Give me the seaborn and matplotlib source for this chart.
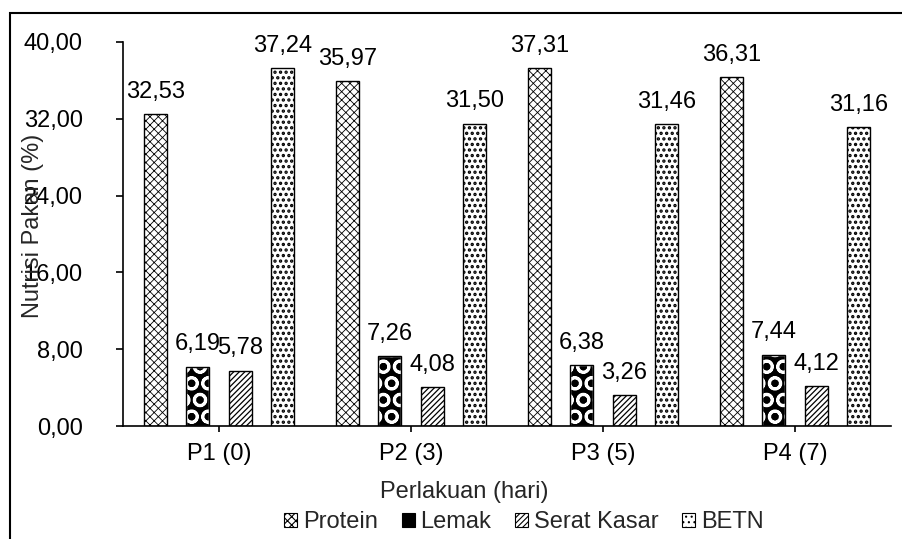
import matplotlib
matplotlib.use("Agg")
import matplotlib.pyplot as plt
from matplotlib.patches import Patch, Rectangle
from matplotlib.ticker import FuncFormatter, FixedLocator
import seaborn as sns
import pandas as pd

# Nutrient composition per treatment
perlakuan = ["P1 (0)", "P2 (3)", "P3 (5)", "P4 (7)"]
nutrisi = ["Protein", "Lemak", "Serat Kasar", "BETN"]
protein = [32.53, 35.97, 37.31, 36.31]
lemak = [6.19, 7.26, 6.38, 7.44]
serat_kasar = [5.78, 4.08, 3.26, 4.12]
betn = [37.24, 31.50, 31.46, 31.16]
y_ticks = [0, 8, 16, 24, 32, 40]

df = pd.DataFrame({
    "Perlakuan": perlakuan * 4,
    "Nutrisi": [n for n in nutrisi for _ in perlakuan],
    "Nilai": protein + lemak + serat_kasar + betn,
})

sns.set_theme(style="white")
plt.rcParams["font.family"] = ["Liberation Sans", "DejaVu Sans"]
plt.rcParams["hatch.linewidth"] = 0.8
FS = 17

fig = plt.figure(figsize=(9.03, 5.39), dpi=100)
ax = fig.add_axes([123 / 903, 1 - 426 / 539, (891 - 123) / 903, (426 - 42) / 539])

sns.barplot(data=df, x="Perlakuan", y="Nilai", hue="Nutrisi", order=perlakuan,
            hue_order=nutrisi, palette=["white"] * 4, width=0.885, gap=0.457,
            edgecolor="black", linewidth=1.0, errorbar=None, ax=ax, legend=False)

styles = {
    "Protein": dict(face="white", hatch="xxxx", hcolor="black", hlw=0.6),
    "Lemak": dict(face="black", hatch="O", hcolor="white", hlw=2.0),
    "Serat Kasar": dict(face="white", hatch="//////", hcolor="black", hlw=0.9),
    "BETN": dict(face="white", hatch="...", hcolor="black", hlw=1.6),
}

for name, cont in zip(nutrisi, ax.containers):
    st = styles[name]
    for bar in cont:
        bar.set_facecolor(st["face"])
        bar.set_hatch(st["hatch"])
        bar.set_edgecolor(st["hcolor"])
        if hasattr(bar, "set_hatch_linewidth"):
            bar.set_hatch_linewidth(st["hlw"])
        if st["hcolor"] != "black":
            # black outline on top of a white-hatched bar
            ax.add_patch(Rectangle(bar.get_xy(), bar.get_width(), bar.get_height(),
                                   fill=False, edgecolor="black", linewidth=1.0, zorder=3))
    ax.bar_label(cont, labels=[f"{v:.2f}".replace(".", ",") for v in cont.datavalues],
                 padding=8, fontsize=FS, color="black")

ax.set_ylim(0, 40)
ax.yaxis.set_major_locator(FixedLocator(y_ticks))
ax.yaxis.set_major_formatter(FuncFormatter(lambda v, p: f"{v:.2f}".replace(".", ",")))
ax.set_xlim(-0.5, 3.5)

for s in ["top", "right"]:
    ax.spines[s].set_visible(False)
for s in ["left", "bottom"]:
    ax.spines[s].set_color("black")
    ax.spines[s].set_linewidth(1.2)

ax.tick_params(axis="both", which="major", direction="out", length=5, width=1.2,
               colors="black", labelsize=FS, left=True, bottom=True)
ax.tick_params(axis="x", length=4, pad=8)
ax.tick_params(axis="y", pad=24)
ax.set_xlabel("")
ax.set_ylabel("")

fig.text(464 / 903, 1 - 492 / 539, "Perlakuan (hari)", ha="center", va="center", fontsize=FS)
fig.text(33 / 903, 1 - 226 / 539, "Nutrisi Pakan (%)", ha="center", va="center",
         rotation=90, fontsize=FS)

handles = []
for n in nutrisi:
    st = styles[n]
    p = Patch(facecolor=st["face"], edgecolor=st["hcolor"], hatch=st["hatch"], linewidth=0.8)
    handles.append(p)
leg = fig.legend(handles, nutrisi, loc="center", bbox_to_anchor=(524 / 903, 1 - 522 / 539),
                 ncol=4, frameon=False, fontsize=FS, handlelength=0.55, handleheight=0.55,
                 handletextpad=0.25, columnspacing=1.0, borderaxespad=0)
for h in leg.legend_handles:
    h.set_edgecolor("black")

# chart border
fig.patches.append(Rectangle((10 / 903, -0.1), 1.2, 1.1 - 13 / 539, transform=fig.transFigure,
                             fill=False, edgecolor="black", linewidth=1.5, figure=fig))

fig.savefig("out.png", dpi=100)
